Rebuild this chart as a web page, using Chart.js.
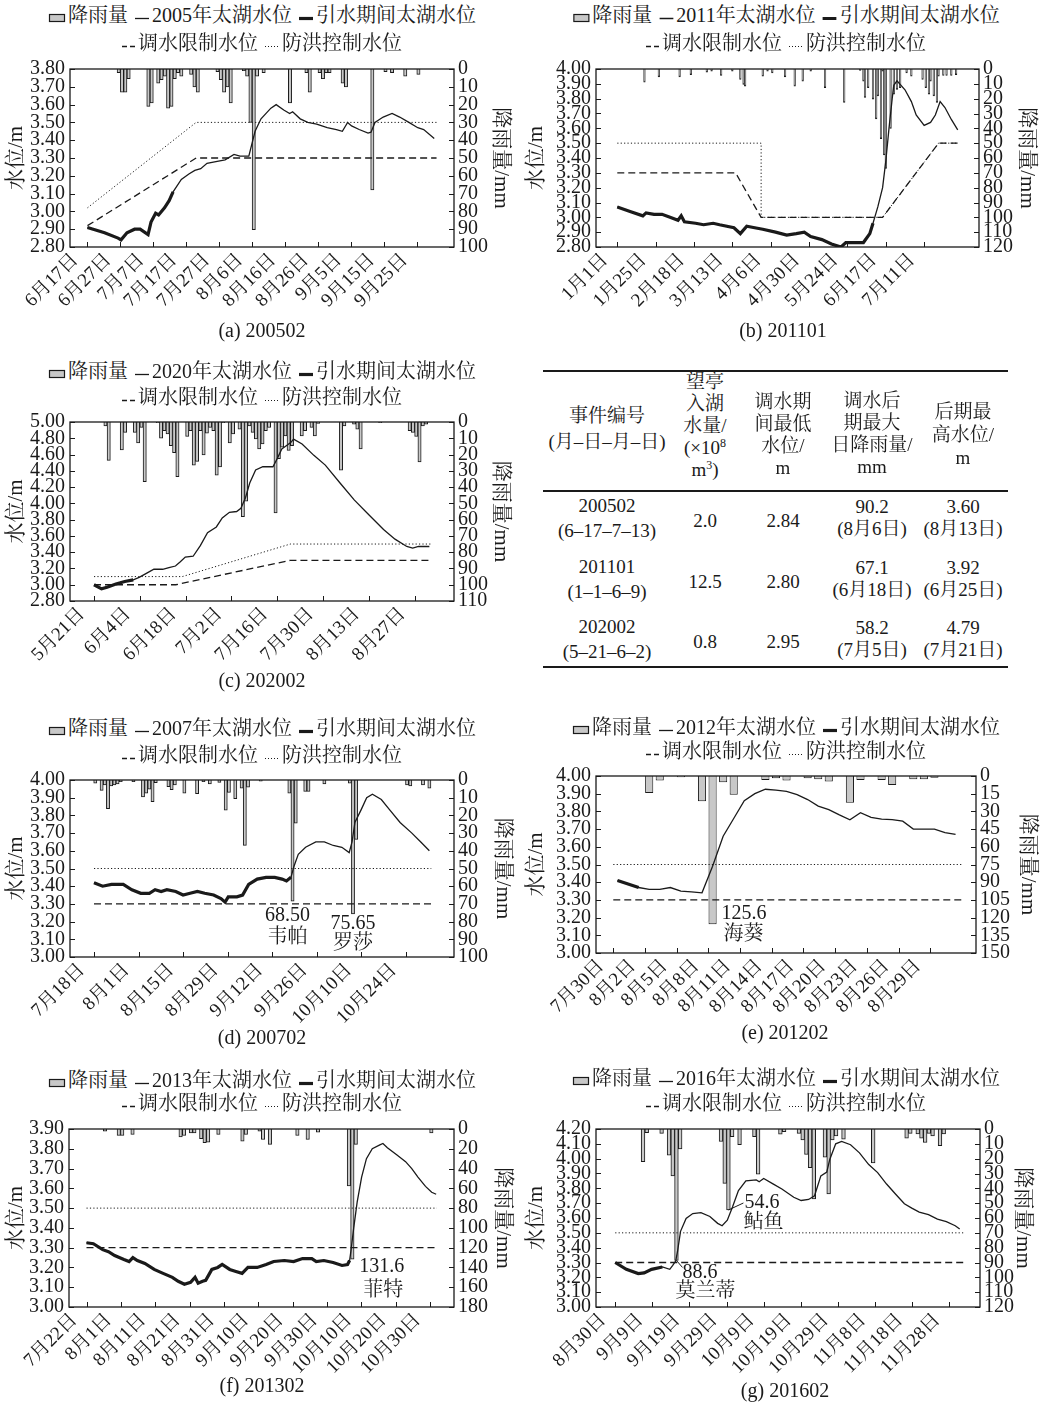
<!DOCTYPE html>
<html>
<head>
<meta charset="utf-8">
<title>太湖引水期间水位与降雨量</title>
<script src="https://cdn.jsdelivr.net/npm/chart.js@4.4.1/dist/chart.umd.min.js"></script>
<style>
  body { margin: 0; width: 1043px; height: 1402px; position: relative; overflow: hidden; background: #fff; color: #1a1a1a;
         font-family: "Liberation Serif", "Noto Serif CJK SC", "Noto Sans CJK SC", serif; }
  canvas { position: absolute; }
  .leg { position: absolute; white-space: nowrap; font-size: 20px; line-height: 22px; transform: translate(-50%, -50%); }
  .leg svg { vertical-align: -1px; margin-right: 2px; }
  .leg .gap { display: inline-block; width: 7px; }
  .cap { position: absolute; font-size: 20px; white-space: nowrap; transform: translate(-50%, -50%); }
  .cell { position: absolute; font-size: 19px; text-align: center; white-space: nowrap; transform: translate(-50%, -50%); }
  .cell sup { font-size: 12px; vertical-align: 7px; line-height: 0; }
  .rule { position: absolute; left: 543px; width: 465px; background: #1a1a1a; }
</style>
</head>
<body>
<script>
// ---------- (a) 200502 ----------
const ticksA = ['6月17日', '6月27日', '7月7日', '7月17日', '7月27日', '8月6日', '8月16日', '8月26日', '9月5日', '9月15日', '9月25日'];
const rainDayA = [9, 10, 11, 12, 18, 19, 21, 22, 23, 24, 25, 26, 27, 28, 31, 32, 33, 39, 40, 41, 42, 43, 47, 48, 49, 50, 51, 53, 61, 66, 67, 70, 71, 72, 73, 77, 78, 86, 90, 92, 96, 100];
const rainMmA = [2, 13, 13, 5.5, 21, 19, 8, 6, 4, 22, 21, 5.5, 2, 4, 3, 10, 13, 1.5, 6, 13, 10, 19, 1, 4, 30, 90.2, 4, 2, 19, 2, 13, 2, 5.5, 2, 2, 8, 10, 68, 1.5, 2, 4, 3];
const levelDayA = [0, 5.2, 9.3, 10.2, 12, 14.3, 16, 18.4, 19.3, 20.7, 21.6, 23.4, 24.8, 26, 28.5, 30.8, 32.6, 34.4, 36.3, 39, 41.8, 44.5, 46.3, 49, 49.8, 50.9, 52.7, 55.7, 57.3, 59.6, 61.4, 62.3, 64.6, 66.9, 69.6, 72.8, 75.6, 77.4, 79, 80.2, 82.5, 85.2, 86.1, 87.3, 89.8, 92.5, 94.8, 97.6, 100.3, 102.1, 105.3];
const levelA = [2.91, 2.88, 2.85, 2.84, 2.88, 2.90, 2.90, 2.87, 2.94, 2.99, 2.98, 3.02, 3.06, 3.11, 3.18, 3.21, 3.23, 3.24, 3.27, 3.28, 3.29, 3.32, 3.31, 3.31, 3.37, 3.45, 3.52, 3.58, 3.60, 3.57, 3.55, 3.56, 3.52, 3.50, 3.49, 3.47, 3.46, 3.45, 3.50, 3.48, 3.46, 3.44, 3.445, 3.50, 3.53, 3.55, 3.53, 3.50, 3.47, 3.46, 3.41];
const limitDayA = [0, 33, 106];
const limitA = [2.92, 3.30, 3.30];
const floodDayA = [0, 33, 106];
const floodA = [3.02, 3.50, 3.50];

// ---------- (b) 201101 ----------
const ticksB = ['1月1日', '1月25日', '2月18日', '3月13日', '4月6日', '4月30日', '5月24日', '6月17日', '7月11日'];
const rainDayB = [17, 26, 39, 46, 56, 59, 65, 72, 77, 79, 80, 91, 94, 97, 105, 111, 116, 121, 130, 142, 152, 154, 155, 157, 160, 162, 163, 165, 166, 167, 168, 171, 173, 175, 177, 181, 184, 191, 193, 195, 196, 198, 200, 201, 204, 206, 209, 212];
const rainMmB = [8.8, 5.3, 5.3, 3.8, 2.2, 1.5, 4.4, 1.5, 7, 10.4, 11.5, 4.9, 1.5, 2.6, 5.3, 11.5, 8.2, 1.5, 12.6, 22.5, 0.9, 8.2, 19.2, 12.6, 20.3, 33.6, 18.1, 46.9, 1.5, 58, 67.1, 40, 17, 13.7, 12.6, 2.6, 4.9, 7, 12.6, 17, 8.2, 18.1, 22.5, 4.9, 4.4, 4.4, 4.4, 3.8];
const levelDayB = [0, 8, 16, 18, 23, 28, 33, 38, 40, 42, 49, 54, 60, 64, 73, 77, 81, 86, 91, 99, 106, 112, 117, 121, 128, 134, 140, 143, 148, 154, 158, 160, 163, 166, 168, 170, 172, 173, 175, 180, 184, 187, 192, 196, 199, 202, 205, 209, 213];
const levelB = [3.07, 3.04, 3.01, 3.03, 3.02, 3.02, 3.00, 2.98, 3.01, 2.97, 2.96, 2.95, 2.96, 2.95, 2.93, 2.89, 2.94, 2.93, 2.92, 2.90, 2.88, 2.89, 2.90, 2.87, 2.85, 2.82, 2.80, 2.83, 2.83, 2.83, 2.89, 2.96, 3.07, 3.20, 3.38, 3.60, 3.80, 3.89, 3.92, 3.86, 3.78, 3.69, 3.62, 3.64, 3.69, 3.78, 3.74, 3.66, 3.59];
const limitDayB = [0, 74, 90, 166, 201, 213];
const limitB = [3.30, 3.30, 3.00, 3.00, 3.50, 3.50];
const floodDayB = [0, 90, 90, 166, 201, 213];
const floodB = [3.50, 3.50, 3.00, 3.00, 3.50, 3.50];

// ---------- (c) 202002 ----------
const ticksC = ['5月21日', '6月4日', '6月18日', '7月2日', '7月16日', '7月30日', '8月13日', '8月27日'];
const rainDayC = [3, 4, 8, 9, 12, 13, 14, 15, 19, 20, 21, 22, 23, 24, 25, 28, 29, 30, 31, 32, 33, 34, 35, 36, 37, 38, 39, 41, 42, 44, 45, 46, 47, 48, 49, 50, 51, 52, 53, 55, 56, 57, 58, 59, 60, 63, 64, 66, 67, 68, 75, 76, 79, 80, 81, 87, 96, 97, 98, 99, 100, 101];
const rainMmC = [2.4, 23.6, 17.1, 6.4, 6.4, 12.9, 3.4, 36.6, 0.4, 10, 5.4, 7.4, 14.5, 18.9, 33.6, 8.9, 5.4, 26.6, 24.2, 5.4, 20.2, 6.8, 3.4, 5.4, 32.6, 27.6, 0.4, 12.9, 7.4, 4.4, 58.2, 48.7, 2.4, 6.4, 10.4, 16.5, 13.5, 5.4, 3.4, 55.8, 22.6, 15.5, 8.5, 17.5, 14.5, 8.5, 5.4, 3.4, 8.5, 0.8, 29.6, 2.4, 1.4, 4.4, 16.5, 0.4, 5.4, 6.4, 8.9, 24.6, 2.4, 1.4];
const levelDayC = [0, 2.3, 4, 6.7, 9.4, 12, 13.8, 16, 18.3, 21, 22.9, 24.9, 26.3, 27.9, 30.3, 32.5, 34.7, 37.4, 39.2, 41.4, 43.6, 44.9, 46.3, 47.6, 49.4, 51.6, 54.7, 56, 57.4, 59.2, 60.2, 61, 63.6, 67.2, 70.7, 75.2, 79.6, 84, 88.5, 92, 95.6, 97.4, 99.2, 102.5];
const levelC = [3.00, 2.95, 2.97, 3.01, 3.04, 3.06, 3.09, 3.14, 3.19, 3.19, 3.21, 3.23, 3.28, 3.34, 3.35, 3.48, 3.64, 3.71, 3.82, 3.89, 3.90, 3.94, 4.07, 4.25, 4.41, 4.45, 4.45, 4.55, 4.67, 4.72, 4.75, 4.79, 4.73, 4.59, 4.47, 4.25, 4.04, 3.86, 3.68, 3.56, 3.47, 3.45, 3.47, 3.47];
const limitDayC = [0, 25, 60, 103];
const limitC = [3.00, 3.00, 3.30, 3.30];
const floodDayC = [0, 27, 60, 103];
const floodC = [3.10, 3.10, 3.50, 3.50];

// ---------- (d) 200702 ----------
const ticksD = ['7月18日', '8月1日', '8月15日', '8月29日', '9月12日', '9月26日', '10月10日', '10月24日'];
const rainDayD = [0, 2, 3, 4, 5, 6, 7, 8, 12, 15, 16, 17, 18, 19, 23, 24, 25, 28, 32, 34, 36, 39, 41, 42, 44, 46, 47, 48, 52, 61, 62, 63, 66, 67, 72, 80, 81, 82, 98, 99, 103, 105];
const rainMmD = [1.8, 5.9, 2.8, 16.2, 3.3, 2.8, 2.2, 0.9, 0.9, 9.6, 7.4, 5.2, 12.2, 1.5, 3.7, 5.5, 2.8, 7.4, 7.7, 0.9, 2.2, 1.3, 17, 7, 10.5, 4.6, 36.9, 4.1, 0.6, 7.4, 68.50, 24.4, 6.5, 6.5, 2.2, 1.8, 75.65, 33.6, 2.8, 3.3, 2.8, 4.6];
const levelDayD = [0, 2.7, 5.5, 9.2, 11.9, 14.7, 17.4, 19.2, 21.1, 22.9, 25.7, 28, 30.2, 32.5, 34.8, 37.6, 39.9, 41.2, 42.2, 44.9, 46.7, 48.6, 51.3, 54.1, 56.8, 59.1, 60.5, 61.9, 62.8, 64.2, 66.5, 69.7, 72.4, 75.2, 77.9, 80.2, 81.1, 82, 83.9, 85.7, 87.5, 90.3, 93, 96.2, 99.9, 102.7, 105.4];
const levelD = [3.42, 3.40, 3.41, 3.41, 3.38, 3.36, 3.36, 3.38, 3.37, 3.38, 3.37, 3.35, 3.36, 3.37, 3.36, 3.35, 3.33, 3.31, 3.34, 3.34, 3.35, 3.41, 3.44, 3.45, 3.45, 3.44, 3.43, 3.45, 3.51, 3.58, 3.62, 3.65, 3.65, 3.63, 3.62, 3.59, 3.65, 3.76, 3.83, 3.90, 3.92, 3.89, 3.83, 3.76, 3.70, 3.65, 3.60];
const limitDayD = [0, 106];
const limitD = [3.30, 3.30];
const floodDayD = [0, 106];
const floodD = [3.50, 3.50];

// ---------- (e) 201202 ----------
const ticksE = ['7月30日', '8月2日', '8月5日', '8月8日', '8月11日', '8月14日', '8月17日', '8月20日', '8月23日', '8月26日', '8月29日'];
const rainDayE = [3, 4, 6, 8, 9, 10, 11, 14, 15, 16, 18, 19, 20, 22, 23, 25, 26, 28, 29, 30];
const rainMmE = [14.4, 3.9, 1.1, 21.3, 125.6, 5.3, 15.8, 3.3, 1.9, 3.9, 1.9, 2.8, 4.7, 22.7, 3.3, 3.3, 7.7, 2.8, 2.8, 1.4];
const levelDayE = [0, 1, 2, 3, 4, 5, 6, 7, 8, 9, 10, 11, 12, 13, 14, 15, 16, 17, 18, 19, 20, 21, 22, 23, 24, 25, 26, 27, 28, 29, 30, 31, 32];
const levelE = [3.41, 3.39, 3.37, 3.36, 3.36, 3.37, 3.35, 3.345, 3.34, 3.49, 3.66, 3.76, 3.86, 3.90, 3.925, 3.92, 3.913, 3.895, 3.867, 3.83, 3.81, 3.78, 3.753, 3.793, 3.766, 3.756, 3.753, 3.745, 3.70, 3.70, 3.70, 3.68, 3.67];
const limitDayE = [0, 33];
const limitE = [3.30, 3.30];
const floodDayE = [0, 33];
const floodE = [3.50, 3.50];

// ---------- (f) 201302 ----------
const ticksF = ['7月22日', '8月1日', '8月11日', '8月21日', '8月31日', '9月10日', '9月20日', '9月30日', '10月10日', '10月20日', '10月30日'];
const rainDayF = [5, 9, 10, 13, 27, 28, 30, 31, 33, 34, 35, 38, 45, 46, 50, 51, 53, 61, 64, 67, 76, 77, 78, 100];
const rainMmF = [2.3, 6.6, 6.6, 5.6, 7.9, 6.6, 4, 4, 9.9, 13.9, 13.2, 5.6, 12.2, 5.6, 2.3, 10.6, 15.6, 6.6, 10.6, 3.3, 57.6, 131.6, 15.6, 4];
const levelDayF = [0, 2, 4.7, 6.4, 8.2, 10.9, 12.4, 13.5, 14.8, 17, 19.7, 22.3, 25, 26.7, 28.5, 30.3, 31.6, 32.5, 33.8, 34.7, 36.5, 38.2, 39.5, 41.7, 43.5, 45.3, 47, 49.7, 52.3, 54.5, 57.6, 60.3, 62.9, 65.6, 66.9, 69.1, 71.8, 74.4, 76, 76.6, 77, 77.8, 78.8, 80.1, 81.5, 83.2, 85.4, 86.3, 87.6, 90.3, 92.9, 94.7, 96.5, 98.7, 100.5, 101.8];
const levelF = [3.325, 3.32, 3.29, 3.28, 3.26, 3.24, 3.23, 3.25, 3.235, 3.22, 3.19, 3.17, 3.15, 3.13, 3.115, 3.125, 3.15, 3.12, 3.13, 3.135, 3.19, 3.20, 3.215, 3.19, 3.18, 3.17, 3.20, 3.20, 3.215, 3.23, 3.235, 3.23, 3.245, 3.245, 3.23, 3.235, 3.225, 3.21, 3.215, 3.235, 3.285, 3.40, 3.53, 3.657, 3.75, 3.80, 3.82, 3.827, 3.805, 3.77, 3.735, 3.70, 3.657, 3.61, 3.58, 3.57];
const limitDayF = [0, 102];
const limitF = [3.30, 3.30];
const floodDayF = [0, 102];
const floodF = [3.50, 3.50];

// ---------- (g) 201602 ----------
const ticksG = ['8月30日', '9月9日', '9月19日', '9月29日', '10月9日', '10月19日', '10月29日', '11月8日', '11月18日', '11月28日'];
const rainDayG = [7, 8, 12, 14, 15, 16, 17, 28, 29, 30, 31, 33, 37, 38, 44, 45, 49, 50, 51, 52, 53, 56, 57, 58, 59, 61, 69, 78, 79, 81, 82, 83, 84, 85, 87, 88];
const rainMmG = [22.1, 2.4, 2.9, 17.7, 31.6, 88.6, 13.5, 8.4, 36.7, 54.6, 5.1, 10.6, 5.1, 30.5, 3.5, 1.8, 2.9, 7.3, 17.2, 26.1, 47.1, 19, 43.8, 7.3, 4.6, 6.9, 22.8, 6.2, 2.9, 3.3, 6.2, 9.1, 2.9, 4.6, 11.3, 3.3];
const levelDayG = [0, 3, 6.2, 7.8, 9.8, 12.7, 14.7, 15.5, 16.3, 16.8, 17.6, 19.1, 20.9, 23.1, 25.5, 27.6, 28.8, 30.2, 31.6, 33.2, 35.2, 38, 38.8, 40, 42.5, 44.9, 48.1, 50.1, 52.1, 53.7, 55.4, 57, 57.8, 59.4, 61, 63.4, 65.8, 68.3, 70.7, 73.1, 75.5, 77.9, 79.9, 81.9, 84.4, 86.8, 89.2, 91.6, 92.8];
const levelG = [3.30, 3.254, 3.225, 3.23, 3.254, 3.27, 3.254, 3.28, 3.31, 3.376, 3.51, 3.597, 3.63, 3.636, 3.61, 3.564, 3.548, 3.585, 3.674, 3.785, 3.85, 3.857, 3.844, 3.866, 3.83, 3.796, 3.74, 3.718, 3.725, 3.75, 3.884, 3.91, 3.995, 4.10, 4.116, 4.094, 4.039, 3.96, 3.906, 3.829, 3.762, 3.696, 3.667, 3.64, 3.623, 3.592, 3.575, 3.548, 3.526];
const limitDayG = [0, 94];
const limitG = [3.30, 3.30];
const floodDayG = [0, 94];
const floodG = [3.50, 3.50];

// ---------- 表格 ----------
const tableRows = [
  ['200502', '(6–17–7–13)', '2.0', '2.84', '90.2', '(8月6日)', '3.60', '(8月13日)'],
  ['201101', '(1–1–6–9)', '12.5', '2.80', '67.1', '(6月18日)', '3.92', '(6月25日)'],
  ['202002', '(5–21–6–2)', '0.8', '2.95', '58.2', '(7月5日)', '4.79', '(7月21日)']
];

const FONT = '"Liberation Serif", "Noto Serif CJK SC", "Noto Sans CJK SC", serif';
const INK = '#1a1a1a';

// 图框、向内刻度和台风注记
const frame = {
  id: 'frame',
  afterDatasetsDraw(chart, args, opts) {
    const { ctx, chartArea: a, scales } = chart;
    ctx.save();
    ctx.strokeStyle = INK;
    ctx.lineWidth = 1.3;
    ctx.strokeRect(a.left, a.top, a.right - a.left, a.bottom - a.top);
    ctx.lineWidth = 1;
    ctx.beginPath();
    scales.y.ticks.forEach(t => {
      const y = Math.round(scales.y.getPixelForValue(t.value)) + 0.5;
      ctx.moveTo(a.left, y); ctx.lineTo(a.left + 5, y);
    });
    scales.y2.ticks.forEach(t => {
      const y = Math.round(scales.y2.getPixelForValue(t.value)) + 0.5;
      ctx.moveTo(a.right, y); ctx.lineTo(a.right - 5, y);
    });
    scales.x.ticks.forEach(t => {
      const x = Math.round(scales.x.getPixelForValue(t.value)) + 0.5;
      ctx.moveTo(x, a.bottom); ctx.lineTo(x, a.bottom - 5);
    });
    ctx.stroke();

    // 注记：紧挨对应降雨柱的底端
    (opts.notes || []).forEach(n => {
      const x = scales.x.getPixelForValue(n.day + opts.barShift);
      const y = scales.y2.getPixelForValue(n.mm);
      if (n.leader) {
        ctx.beginPath();
        ctx.moveTo(x + n.leader[0], y + n.leader[1]);
        ctx.lineTo(x + n.leader[2], y + n.leader[3]);
        ctx.stroke();
      }
      ctx.fillStyle = INK;
      ctx.font = '20px ' + FONT;
      ctx.textBaseline = 'middle';
      n.lines.forEach(([text, dx, dy, align]) => {
        ctx.textAlign = align;
        ctx.fillText(text, x + dx, y + dy);
      });
    });
    ctx.restore();
  }
};

function legendHtml(year) {
  const bar = '<svg width="18" height="10"><rect x="1.5" y="1.5" width="15" height="7" fill="#c8c8c8" stroke="' + INK + '" stroke-width="1.2"/></svg>';
  const thin = '<svg width="15" height="10"><line x1="0" y1="5.5" x2="14" y2="5.5" stroke="' + INK + '" stroke-width="1.3"/></svg>';
  const thick = '<svg width="15" height="10"><line x1="0" y1="5.5" x2="14" y2="5.5" stroke="' + INK + '" stroke-width="3.2"/></svg>';
  const dash = '<svg width="14" height="10"><line x1="0" y1="5.5" x2="13" y2="5.5" stroke="' + INK + '" stroke-width="1.3" stroke-dasharray="5,3"/></svg>';
  const dot = '<svg width="15" height="10"><line x1="0" y1="5.5" x2="14" y2="5.5" stroke="' + INK + '" stroke-width="1" stroke-dasharray="1,2"/></svg>';
  return [
    bar + '降雨量<span class="gap"></span>' + thin + year + '年太湖水位<span class="gap"></span>' + thick + '引水期间太湖水位',
    dash + '调水限制水位<span class="gap"></span>' + dot + '防洪控制水位'
  ];
}

function addText(cls, x, y, html, lh) {
  const d = document.createElement('div');
  d.className = cls;
  d.style.left = x + 'px';
  d.style.top = y + 'px';
  if (lh) d.style.lineHeight = lh + 'px';
  d.innerHTML = html;
  document.body.appendChild(d);
}

function pairs(days, vals, shift) {
  return days.map((d, i) => ({ x: d + shift, y: vals[i] }));
}

function makePanel(p) {
  const bottomH = 78;
  const cv = document.createElement('canvas');
  cv.width = p.w;
  cv.height = p.padTop + p.plotH + bottomH;
  cv.style.left = p.x + 'px';
  cv.style.top = (p.plotTop - p.padTop) + 'px';
  document.body.appendChild(cv);

  const leg = legendHtml(p.year);
  addText('leg', p.legX, p.legY[0], leg[0]);
  addText('leg', p.legX, p.legY[1], leg[1]);
  addText('cap', p.capX, p.capY, p.caption);

  const level = pairs(p.levelDay, p.level, p.lineShift);
  const transfer = level.filter((pt, i) => p.levelDay[i] <= p.transferEnd);
  const lineBase = { type: 'line', borderColor: INK, pointRadius: 0, tension: 0, fill: false, yAxisID: 'y' };
  const tickFont = { family: FONT, size: 20 };

  new Chart(cv, {
    type: 'bar',
    data: {
      datasets: [
        { ...lineBase, label: '引水期间太湖水位', data: transfer, borderWidth: 3.2, order: 0 },
        { ...lineBase, label: p.year + '年太湖水位', data: level, borderWidth: 1.3, order: 1 },
        { ...lineBase, label: '调水限制水位', data: pairs(p.limitDay, p.limit, 0), borderWidth: 1.3, borderDash: [7, 4], order: 2 },
        { ...lineBase, label: '防洪控制水位', data: pairs(p.floodDay, p.flood, 0), borderWidth: 1, borderDash: [1.2, 2.2], order: 3 },
        {
          type: 'bar', label: '降雨量', data: pairs(p.rainDay, p.rainMm, p.barShift), yAxisID: 'y2',
          backgroundColor: p.barFill, borderColor: INK, borderWidth: 1,
          barPercentage: p.barPct, categoryPercentage: 1, order: 4
        }
      ]
    },
    options: {
      responsive: false,
      animation: false,
      devicePixelRatio: 1,
      events: [],
      layout: { padding: { top: p.padTop, left: 0, right: 0, bottom: 0 } },
      plugins: {
        legend: { display: false },
        tooltip: { enabled: false },
        frame: { notes: p.notes || [], barShift: p.barShift }
      },
      scales: {
        x: {
          type: 'linear', min: 0, max: p.xMax,
          grid: { display: false, drawTicks: false }, border: { display: false },
          afterBuildTicks: s => { s.ticks = p.ticks.map((t, i) => ({ value: i * p.tickStep })); },
          afterFit: s => { s.height = bottomH; },
          ticks: {
            autoSkip: false, minRotation: 45, maxRotation: 45, padding: 2, labelOffset: -12, color: INK,
            font: { family: FONT, size: 19 },
            callback: (v, i) => p.ticks[i]
          }
        },
        y: {
          type: 'linear', position: 'left', min: p.yMin, max: p.yMax,
          grid: { display: false, drawTicks: false }, border: { display: false },
          afterFit: s => { s.width = p.leftW; },
          ticks: { stepSize: p.yStep, autoSkip: false, padding: 5, color: INK, font: tickFont, callback: v => v.toFixed(2) },
          title: { display: true, text: '水位/m', color: INK, font: { family: FONT, size: 21 }, padding: { top: 4, bottom: 0 } }
        },
        y2: {
          type: 'linear', position: 'right', reverse: true, min: 0, max: p.rMax,
          grid: { display: false, drawTicks: false }, border: { display: false },
          afterFit: s => { s.width = p.rightW; },
          ticks: { stepSize: p.rStep, autoSkip: false, padding: 4, color: INK, font: tickFont, callback: v => String(v) },
          title: { display: true, text: '降雨量/mm', color: INK, font: { family: FONT, size: 21 }, padding: { top: p.rTitlePad, bottom: 0 } }
        }
      }
    },
    plugins: [frame]
  });
}

const panels = [
  { year: '2005', caption: '(a) 200502', x: 0, w: 520, plotTop: 66, plotH: 181, padTop: 14, leftW: 70, rightW: 66, rTitlePad: 7,
    legX: 262, legY: [15, 43], capX: 262, capY: 330,
    yMin: 2.8, yMax: 3.8, yStep: 0.1, rMax: 100, rStep: 10, xMax: 106, tickStep: 10, ticks: ticksA,
    rainDay: rainDayA, rainMm: rainMmA, barShift: 0.5, barPct: 1, barFill: '#c8c8c8',
    levelDay: levelDayA, level: levelA, lineShift: 0, transferEnd: 26,
    limitDay: limitDayA, limit: limitA, floodDay: floodDayA, flood: floodA },
  { year: '2011', caption: '(b) 201101', x: 520, w: 523, plotTop: 66, plotH: 181, padTop: 14, leftW: 76, rightW: 64, rTitlePad: 4,
    legX: 786, legY: [15, 43], capX: 783, capY: 330,
    yMin: 2.8, yMax: 4.0, yStep: 0.1, rMax: 120, rStep: 10, xMax: 213, tickStep: 24, ticks: ticksB,
    rainDay: rainDayB, rainMm: rainMmB, barShift: 0, barPct: 1, barFill: '#8a8a8a',
    levelDay: levelDayB, level: levelB, lineShift: 0, transferEnd: 160,
    limitDay: limitDayB, limit: limitB, floodDay: floodDayB, flood: floodB },
  { year: '2020', caption: '(c) 202002', x: 0, w: 520, plotTop: 419, plotH: 182, padTop: 14, leftW: 70, rightW: 66, rTitlePad: 7,
    legX: 262, legY: [371, 397], capX: 262, capY: 680,
    yMin: 2.8, yMax: 5.0, yStep: 0.2, rMax: 110, rStep: 10, xMax: 102.7, tickStep: 14, ticks: ticksC,
    rainDay: rainDayC, rainMm: rainMmC, barShift: 0.5, barPct: 1, barFill: '#c8c8c8',
    levelDay: levelDayC, level: levelC, lineShift: 0, transferEnd: 12,
    limitDay: limitDayC, limit: limitC, floodDay: floodDayC, flood: floodC },
  { year: '2007', caption: '(d) 200702', x: 0, w: 520, plotTop: 777, plotH: 180, padTop: 14, leftW: 70, rightW: 66, rTitlePad: 5,
    legX: 262, legY: [728, 755], capX: 262, capY: 1037,
    yMin: 3.0, yMax: 4.0, yStep: 0.1, rMax: 100, rStep: 10, xMax: 105.6, tickStep: 14, ticks: ticksD,
    rainDay: rainDayD, rainMm: rainMmD, barShift: 0.4, barPct: 1, barFill: '#c8c8c8',
    levelDay: levelDayD, level: levelD, lineShift: 0, transferEnd: 61.9,
    limitDay: limitDayD, limit: limitD, floodDay: floodDayD, flood: floodD,
    notes: [
      { day: 62, mm: rainMmD[rainDayD.indexOf(62)], lines: [['68.50', -5, 15, 'center'], ['韦帕', -5, 37, 'center']] },
      { day: 81, mm: rainMmD[rainDayD.indexOf(81)], lines: [['75.65', 0, 10, 'center'], ['罗莎', 0, 30, 'center']] }
    ] },
  { year: '2012', caption: '(e) 201202', x: 520, w: 523, plotTop: 773, plotH: 180, padTop: 14, leftW: 76, rightW: 67, rTitlePad: 3,
    legX: 786, legY: [727, 751], capX: 785, capY: 1032,
    yMin: 3.0, yMax: 4.0, yStep: 0.1, rMax: 150, rStep: 15, xMax: 32.7, tickStep: 3, ticks: ticksE,
    rainDay: rainDayE, rainMm: rainMmE, barShift: 0.4, barPct: 0.77, barFill: '#c8c8c8',
    levelDay: levelDayE, level: levelE, lineShift: 0.4, transferEnd: 2,
    limitDay: limitDayE, limit: limitE, floodDay: floodDayE, flood: floodE,
    notes: [
      { day: 9, mm: rainMmE[rainDayE.indexOf(9)], lines: [['125.6', 9, -10, 'left'], ['海葵', 11, 11, 'left']] }
    ] },
  { year: '2013', caption: '(f) 201302', x: 0, w: 520, plotTop: 1126, plotH: 181, padTop: 14, leftW: 69, rightW: 66, rTitlePad: 5,
    legX: 262, legY: [1080, 1103], capX: 262, capY: 1385,
    yMin: 3.0, yMax: 3.9, yStep: 0.1, rMax: 180, rStep: 20, xMax: 101.9, tickStep: 10, ticks: ticksF,
    rainDay: rainDayF, rainMm: rainMmF, barShift: 0.4, barPct: 1, barFill: '#c8c8c8',
    levelDay: levelDayF, level: levelF, lineShift: 0, transferEnd: 76.6,
    limitDay: limitDayF, limit: limitF, floodDay: floodDayF, flood: floodF,
    notes: [
      { day: 77, mm: rainMmF[rainDayF.indexOf(77)], lines: [['131.6', 7, 8, 'left'], ['菲特', 11, 32, 'left']] }
    ] },
  { year: '2016', caption: '(g) 201602', x: 520, w: 523, plotTop: 1126, plotH: 181, padTop: 14, leftW: 76, rightW: 63, rTitlePad: 8,
    legX: 786, legY: [1078, 1103], capX: 785, capY: 1390,
    yMin: 3.0, yMax: 4.2, yStep: 0.1, rMax: 120, rStep: 10, xMax: 93.1, tickStep: 10, ticks: ticksG,
    rainDay: rainDayG, rainMm: rainMmG, barShift: 0.5, barPct: 1, barFill: '#c8c8c8',
    levelDay: levelDayG, level: levelG, lineShift: 0, transferEnd: 12.7,
    limitDay: limitDayG, limit: limitG, floodDay: floodDayG, flood: floodG,
    notes: [
      { day: 16, mm: rainMmG[rainDayG.indexOf(16)], leader: [0, 0, 6, 7], lines: [['88.6', 6, 12, 'left'], ['莫兰蒂', 29, 31, 'center']] },
      { day: 30, mm: rainMmG[rainDayG.indexOf(30)], leader: [0, 0, 15, -7], lines: [['54.6', 16, -7, 'left'], ['鲇鱼', 35, 13, 'center']] }
    ] }
];

panels.forEach(makePanel);

// 事件统计表
function rule(y, h) {
  const d = document.createElement('div');
  d.className = 'rule';
  d.style.top = y + 'px';
  d.style.height = h + 'px';
  document.body.appendChild(d);
}
rule(370, 2);
rule(490, 1.5);
rule(666, 2);

addText('cell', 607, 429, '事件编号<br>(月–日–月–日)', 26);
addText('cell', 705, 426, '望亭<br>入湖<br>水量/<br>(×10<sup>8</sup><br>m<sup>3</sup>)', 22);
addText('cell', 783, 435, '调水期<br>间最低<br>水位/<br>m', 22);
addText('cell', 872, 434, '调水后<br>期最大<br>日降雨量/<br>mm', 22);
addText('cell', 963, 434, '后期最<br>高水位/<br>m', 23);

const rowY = [518, 579, 639];
tableRows.forEach((r, i) => {
  const y = rowY[i];
  addText('cell', 607, y, r[0] + '<br>' + r[1], 25);
  addText('cell', 705, y + 3, r[2]);
  addText('cell', 783, y + 3, r[3]);
  addText('cell', 872, y, r[4] + '<br>' + r[5], 22);
  addText('cell', 963, y, r[6] + '<br>' + r[7], 22);
});
</script>
</body>
</html>
